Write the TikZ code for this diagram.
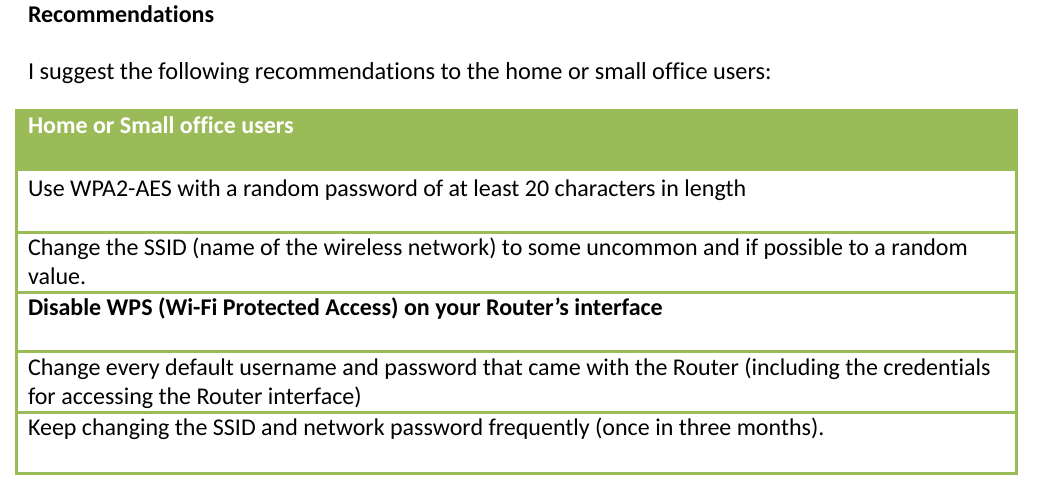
\documentclass[tikz,border=0pt]{standalone}
\usepackage{fontspec}
\setmainfont{Carlito}[Ligatures=NoCommon]
\definecolor{tgreen}{HTML}{9BBB59}
\begin{document}
\begin{tikzpicture}[x=1pt,y=-1pt,
  txt/.style={anchor=base west,inner sep=0pt,outer sep=0pt,font=\fontsize{24}{29}\selectfont,align=left},
  bold/.style={txt,font=\fontsize{24}{29}\selectfont\bfseries},
  hdr/.style={bold,text=white},
  rule/.style={draw=tgreen,line width=3pt}]
\useasboundingbox (0,0) rectangle (1039,490);
% header fill
\fill[tgreen] (15,109) rectangle (1018,171);
% frame and row rules
\draw[rule] (16.5,110.5) rectangle (1016.5,473.5);
\draw[rule] (15,232) -- (1018,232);
\draw[rule] (15,292) -- (1018,292);
\draw[rule] (15,351) -- (1018,351);
\draw[rule] (15,412) -- (1018,412);
% texts
\node[bold] (title) at (28,22) {Recommendations};
\node[txt,font=\fontsize{24.35}{29}\selectfont] (intro) at (28,79) {I suggest the following recommendations to the home or small office users:};
\node[hdr] (head) at (28,133) {Home or Small office users};
\node[txt] (r1) at (28,196) {Use WPA2-AES with a random password of at least 20 characters in length};
\node[txt] (r2) at (28,284) {Change the SSID (name of the wireless network) to some uncommon and if possible to a random\\value.};
\node[bold] (r3) at (28,315) {Disable WPS (Wi-Fi Protected Access) on your Router’s interface};
\node[txt] (r4) at (28,404) {Change every default username and password that came with the Router (including the credentials\\for accessing the Router interface)};
\node[txt] (r5) at (28,435) {Keep changing the SSID and network password frequently (once in three months).};
\end{tikzpicture}
\end{document}
